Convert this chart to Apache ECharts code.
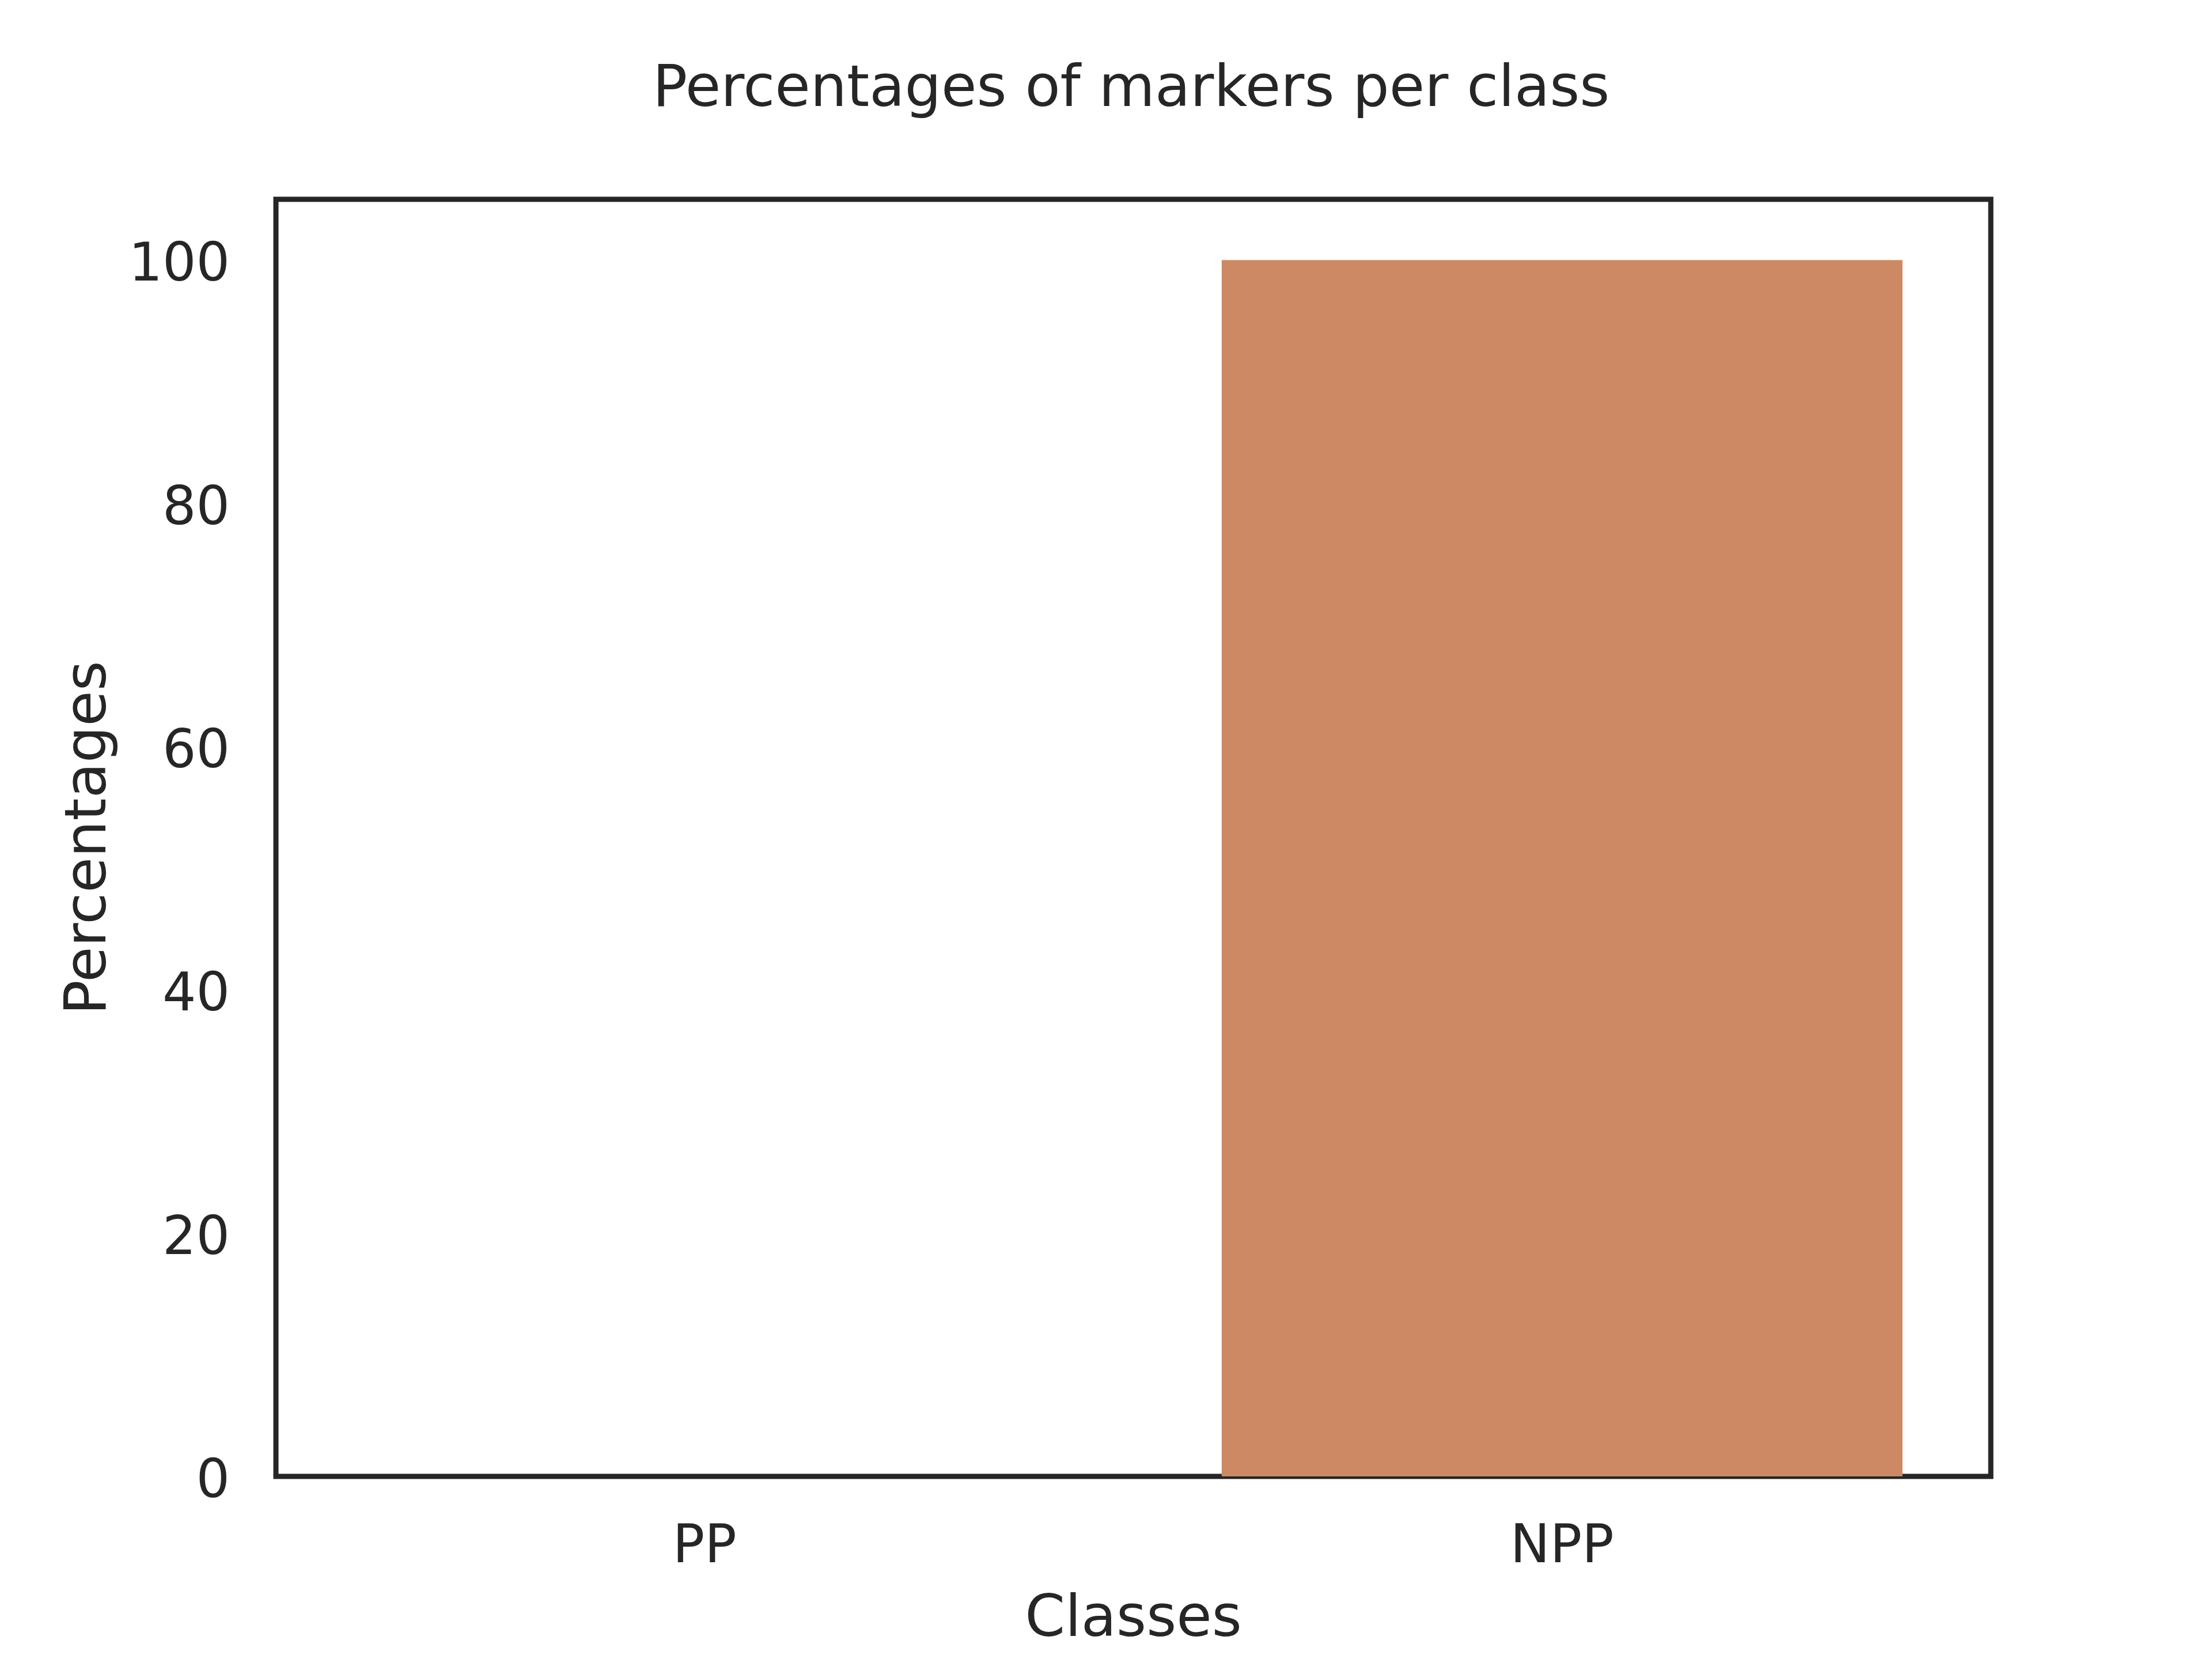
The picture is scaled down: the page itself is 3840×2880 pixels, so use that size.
<!DOCTYPE html>
<html>
<head>
<meta charset="utf-8">
<script src="https://cdn.jsdelivr.net/npm/echarts@6/dist/echarts.min.js"></script>
<style>
html,body{margin:0;padding:0;background:#fff;}
#chart{width:3840px;height:2880px;}
</style>
</head>
<body>
<div id="chart"></div>
<script>
const categories = ['PP', 'NPP'];
const percentages = [0, 100];
const barColors = ['#5975a4', '#cc8963'];
const yTicks = [0, 20, 40, 60, 80, 100];

const chart = echarts.init(document.getElementById('chart'), null, {renderer: 'canvas'});
const font = 'DejaVu Sans';
const ink = '#262626';
chart.setOption({
  backgroundColor: '#ffffff',
  animation: false,
  title: {
    text: 'Percentages of markers per class',
    left: 1128,
    top: 103,
    textStyle: {fontFamily: font, fontSize: 100, fontWeight: 'normal', color: ink}
  },
  grid: {
    left: 479, right: 384, top: 346, bottom: 317,
    show: true, borderColor: ink, borderWidth: 9, backgroundColor: 'transparent'
  },
  xAxis: {
    type: 'category',
    data: categories,
    name: 'Classes',
    nameLocation: 'middle',
    nameGap: 201,
    nameTextStyle: {fontFamily: font, fontSize: 100, color: ink},
    axisLine: {show: false},
    axisTick: {show: false},
    axisLabel: {fontFamily: font, fontSize: 92, color: ink, margin: 79},
    splitLine: {show: false}
  },
  yAxis: {
    type: 'value',
    min: 0, max: 105, interval: 20,
    name: 'Percentages',
    nameLocation: 'middle',
    nameGap: 272,
    nameRotate: 90,
    nameTextStyle: {fontFamily: font, fontSize: 100, color: ink},
    axisLine: {show: false},
    axisTick: {show: false},
    splitLine: {show: false},
    axisLabel: {
      fontFamily: font, fontSize: 92, color: ink, margin: 80,
      showMaxLabel: false,
      formatter: v => (yTicks.indexOf(v) >= 0 ? '{t|' + v + '}' : ''),
      rich: {
        t: {fontFamily: font, fontSize: 92, color: ink, padding: [24, 0, 0, 0]}
      }
    }
  },
  series: [{
    type: 'bar',
    barWidth: '79.4%',
    data: percentages.map((v, i) => ({value: v, itemStyle: {color: barColors[i]}})),
    z: 1
  }]
});
</script>
</body>
</html>
